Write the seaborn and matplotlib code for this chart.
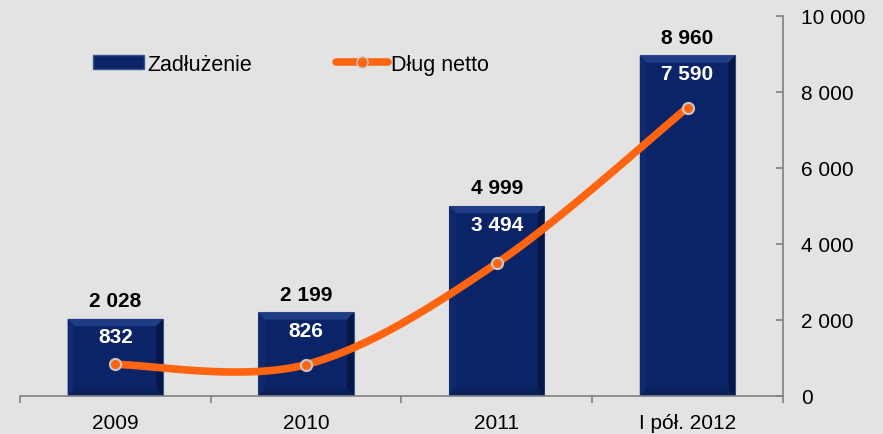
import numpy as np
import pandas as pd
import matplotlib
matplotlib.use('Agg')
import matplotlib.pyplot as plt
import seaborn as sns
from matplotlib.lines import Line2D
from matplotlib.patches import Patch

# Data
years = ['2009', '2010', '2011', 'I pół. 2012']
zadluzenie = [2028, 2199, 4999, 8960]
dlug_netto = [832, 826, 3494, 7590]
y_ticks = [0, 2000, 4000, 6000, 8000, 10000]

bg = '#e3e3e3'
navy = '#0b2467'
orange = '#ff6410'

sns.set_theme(style='white')
plt.rcParams['font.family'] = ['Liberation Sans', 'DejaVu Sans']
plt.rcParams['text.color'] = 'black'
plt.rcParams['xtick.color'] = 'black'
plt.rcParams['ytick.color'] = 'black'

fig = plt.figure(figsize=(8.83, 4.35), dpi=100, facecolor=bg)
ax = fig.add_axes([0.0226, 0.0874, 0.864, 0.8736])
ax.set_facecolor(bg)

df = pd.DataFrame({'rok': years, 'zadl': zadluzenie, 'netto': dlug_netto})

sns.barplot(data=df, x='rok', y='zadl', color=navy, width=0.5, saturation=1,
            edgecolor='#3a548c', linewidth=0.8, ax=ax)

# soft bevel look on the bars
dx, dy = 0.035, 190
for p in list(ax.patches):
    x0, w, h = p.get_x(), p.get_width(), p.get_height()
    x1 = x0 + w
    ax.fill([x0, x1, x1 - dx, x0 + dx], [h, h, h - dy, h - dy], color='#1f3d84', lw=0, zorder=2.1)
    ax.fill([x1, x1, x1 - dx, x1 - dx], [h, 0, dy, h - dy], color='#061747', lw=0, zorder=2.1)
    ax.fill([x0, x1, x1 - dx, x0 + dx], [0, 0, dy, dy], color='#0a1e57', lw=0, zorder=2.1)
    ax.fill([x0, x0, x0 + dx, x0 + dx], [0, h, h - dy, dy], color='#10296e', lw=0, zorder=2.1)

# smooth line (Bezier like Excel smoothing)
xs = np.arange(len(dlug_netto), dtype=float)
ys = np.array(dlug_netto, dtype=float)
px = np.concatenate([[xs[0]], xs, [xs[-1]]])
py = np.concatenate([[ys[0]], ys, [ys[-1]]])
cx, cy = [], []
t = np.linspace(0, 1, 60)
for i in range(1, len(px) - 2):
    p0 = np.array([px[i], py[i]])
    p3 = np.array([px[i + 1], py[i + 1]])
    p1 = p0 + (np.array([px[i + 1], py[i + 1]]) - np.array([px[i - 1], py[i - 1]])) / 6
    p2 = p3 - (np.array([px[i + 2], py[i + 2]]) - np.array([px[i], py[i]])) / 6
    b = ((1 - t) ** 3)[:, None] * p0 + (3 * (1 - t) ** 2 * t)[:, None] * p1 \
        + (3 * (1 - t) * t ** 2)[:, None] * p2 + (t ** 3)[:, None] * p3
    cx.extend(b[:, 0])
    cy.extend(b[:, 1])
ax.plot(cx, cy, color=orange, lw=5.5, solid_capstyle='round', zorder=3)
ax.plot(xs, ys, linestyle='none', marker='o', markersize=8, markerfacecolor=orange,
        markeredgecolor='#c8c8c8', markeredgewidth=1.5, zorder=4)

def fmt(v):
    return f'{v:,}'.replace(',', ' ')

for i, (z, n) in enumerate(zip(zadluzenie, dlug_netto)):
    ax.annotate(fmt(z), (i, z), xytext=(0, 13), textcoords='offset points',
                ha='center', va='center', fontsize=15, fontweight='bold', color='black')
    ax.annotate(fmt(n), (i, z), xytext=(0, -13), textcoords='offset points',
                ha='center', va='center', fontsize=15, fontweight='bold', color='white',
                zorder=5)

ax.set_xlim(-0.5, len(years) - 0.5)
ax.set_ylim(0, 10000)
ax.set_xlabel('')
ax.set_ylabel('')

ax.yaxis.tick_right()
ax.set_yticks(y_ticks)
ax.set_yticklabels([fmt(v) for v in y_ticks])
ax.tick_params(axis='y', direction='in', length=5, width=1.2, color='#808080',
               labelsize=15, pad=13, right=True, left=False)
ax.set_xticks(range(len(years)))
ax.set_xticklabels(years)
ax.set_xticks(np.arange(-0.5, len(years)), minor=True)
ax.tick_params(axis='x', which='major', length=0, labelsize=15, pad=12)
ax.tick_params(axis='x', which='minor', direction='out', length=5, width=1.2,
               color='#808080', bottom=True)

for s in ['left', 'top']:
    ax.spines[s].set_visible(False)
for s in ['right', 'bottom']:
    ax.spines[s].set_color('#808080')
    ax.spines[s].set_linewidth(1.2)

handles = [Patch(facecolor=navy, edgecolor='#3a548c', label='Zadłużenie'),
           Line2D([0], [0], color=orange, lw=5.5, marker='o', markersize=8,
                  markerfacecolor=orange, markeredgecolor='#c8c8c8', label='Dług netto')]
fig.legend(handles=handles, loc='upper left', bbox_to_anchor=(0.083, 0.919), ncol=2,
           frameon=False, fontsize=15.5, handlelength=2.4, handleheight=0.65,
           handletextpad=0.15, columnspacing=3.9)

fig.savefig('out.png', dpi=100, facecolor=bg)
